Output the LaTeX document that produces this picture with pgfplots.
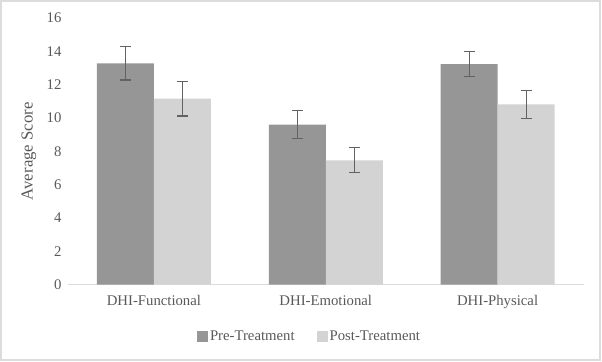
\documentclass[border=0pt]{standalone}
\usepackage{fontspec}
\setmainfont{Liberation Serif}
\usepackage{pgfplots}
\pgfplotsset{compat=1.18}
\definecolor{pre}{HTML}{969696}
\definecolor{post}{HTML}{D3D3D3}
\definecolor{txt}{HTML}{595959}
\definecolor{errc}{HTML}{626262}
\definecolor{framec}{HTML}{DCDCDC}
\begin{document}
\begin{tikzpicture}
\useasboundingbox (0,0) rectangle (602bp,362bp);
\draw[framec, line width=2.2bp] (1.1bp,1.6bp) rectangle (599.9bp,360.9bp);
\begin{axis}[
  at={(68bp,77.3bp)}, anchor=south west,
  scale only axis, width=515.5bp, height=266.7bp,
  ymin=0, ymax=16, ytick={0,2,...,16},
  xmin=-0.5, xmax=2.5, xtick={0,1,2},
  xticklabels={DHI-Functional,DHI-Emotional,DHI-Physical},
  ybar=0pt, bar width=57bp,
  axis x line*=bottom, axis y line*=left,
  x axis line style={-, draw=framec, line width=1bp},
  y axis line style={draw=none},
  major tick length=0pt, tick style={draw=none},
  /pgf/number format/assume math mode=true,
  tick label style={font=\fontsize{14.8}{17}\selectfont, text=txt},
  yticklabel style={xshift=-3bp},
  xticklabel style={yshift=-7bp},
  ylabel={Average Score},
  ylabel style={font=\fontsize{16.8}{19}\selectfont, text=txt, at={(axis description cs:-0.076,0.5)}, anchor=center},
  legend style={draw=none, fill=none, at={(axis description cs:0.4685,-0.195)}, anchor=center,
    font=\fontsize{14.8}{17}\selectfont, text=txt,
    /tikz/every even column/.append style={column sep=20bp}},
  legend columns=2,
  legend image code/.code={\fill[#1] (0bp,-5.5bp) rectangle (11bp,5.5bp);},
]
\addplot[fill=pre, draw=none,
  error bars/.cd, y dir=both, y explicit,
  error bar style={errc, line width=1.1bp},
  error mark options={rotate=90, mark size=5.5bp, errc, line width=1.1bp}]
  coordinates {(0,13.28) +- (0,1.0) (1,9.6) +- (0,0.84) (2,13.24) +- (0,0.73)};
\addplot[fill=post, draw=none,
  error bars/.cd, y dir=both, y explicit,
  error bar style={errc, line width=1.1bp},
  error mark options={rotate=90, mark size=5.5bp, errc, line width=1.1bp}]
  coordinates {(0,11.16) +- (0,1.04) (1,7.46) +- (0,0.75) (2,10.82) +- (0,0.84)};
\legend{Pre-Treatment, Post-Treatment}
\end{axis}
\end{tikzpicture}
\end{document}
